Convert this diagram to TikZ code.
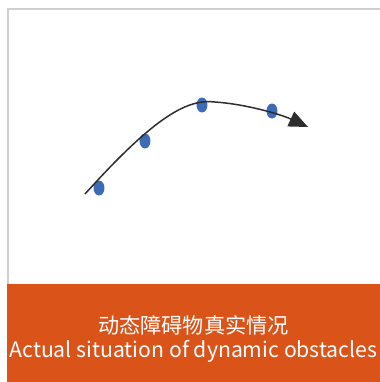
\documentclass[tikz,border=0pt]{standalone}
\usepackage{fontspec}
\setmainfont{Noto Sans CJK SC}
\usetikzlibrary{arrows.meta, positioning, shapes.geometric}
\definecolor{obsorange}{RGB}{218, 84, 25}
\definecolor{obsblue}{RGB}{60, 108, 184}
\definecolor{obsdark}{RGB}{45, 45, 45}
\definecolor{obsframe}{RGB}{208, 208, 208}
\tikzset{
  frame/.style={draw=obsframe, line width=2.4pt},
  dot/.style={ellipse, fill=obsblue, minimum width=11pt, minimum height=15pt, inner sep=0pt},
  arr/.style={-{Triangle[length=19bp, width=16bp]}, line width=1.5pt, obsdark},
  caption/.style={align=center, text=white, font=\fontsize{21.3}{24.5}\selectfont}
}
\begin{document}
\begin{tikzpicture}[x=1bp, y=-1bp]
  \useasboundingbox (0,0) rectangle (380,382);
  \draw[frame] (8,284) |- (384,9);
  \fill[obsorange] (7,284) rectangle (380,382);
  % trajectory
  \coordinate (s) at (85,194);
  \coordinate (e) at (308,127);
  \node[dot] (d1) at (99,188) {};
  \node[dot] (d2) at (145,141) {};
  \node[dot] (d3) at (202,105) {};
  \node[dot] (d4) at (272,111) {};
  \draw[arr] (s) .. controls (150,122) and (185,98) .. (215,102)
                 .. controls (245,104) and (280,114) .. (e);
  \node[caption] (cap) at (193.5,339) {动态障碍物真实情况\\Actual situation of dynamic obstacles};
\end{tikzpicture}
\end{document}
